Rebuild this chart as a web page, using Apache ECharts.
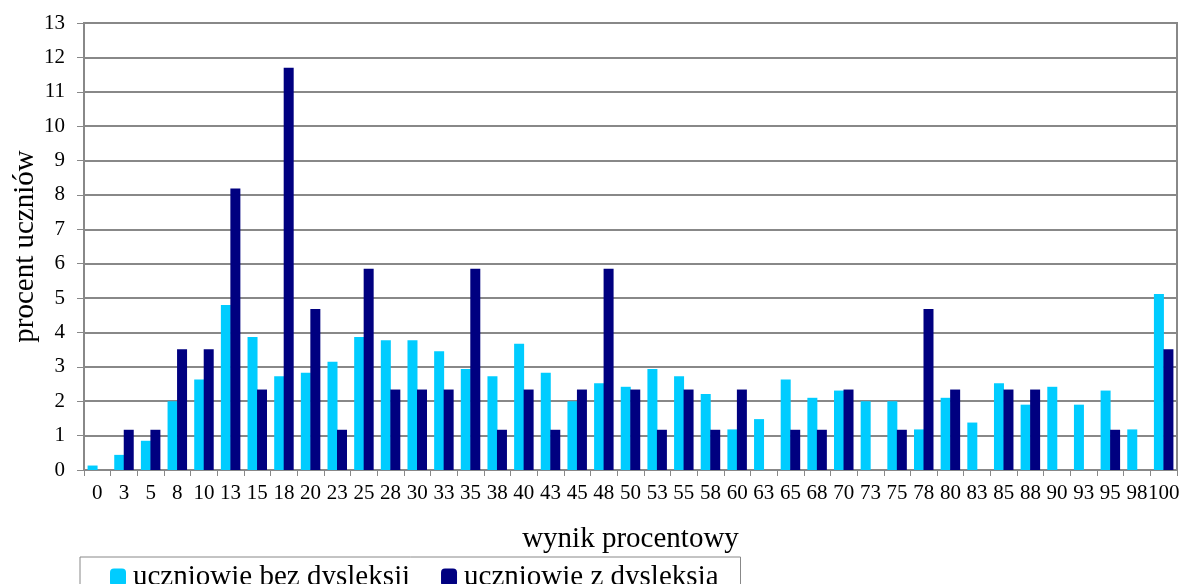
<!DOCTYPE html>
<html>
<head>
<meta charset="utf-8">
<script src="https://cdn.jsdelivr.net/npm/echarts@6/dist/echarts.min.js"></script>
<style>
  html, body { margin: 0; padding: 0; background: #fff; }
  #chart { width: 1184px; height: 584px; }
</style>
</head>
<body>
<div id="chart"></div>
<script>
// wynik procentowy (kategorie osi X)
var categories = ['0','3','5','8','10','13','15','18','20','23','25','28','30','33','35','38','40','43','45','48',
    '50','53','55','58','60','63','65','68','70','73','75','78','80','83','85','88','90','93','95','98','100'];

// uczniowie bez dysleksji
var bezDysleksji = [0.13,0.44,0.85,2.0,2.63,4.8,3.87,2.73,2.83,3.15,3.87,3.77,3.77,3.45,2.94,2.73,3.67,2.83,2.0,2.52,
    2.42,2.94,2.73,2.21,1.18,1.48,2.63,2.1,2.31,2.0,2.0,1.18,2.1,1.38,2.52,1.9,2.42,1.9,2.31,1.18,5.12];

// uczniowie z dysleksja
var zDysleksja = [0,1.17,1.17,3.51,3.51,8.19,2.34,11.7,4.68,1.17,5.85,2.34,2.34,2.34,5.85,1.17,2.34,1.17,2.34,5.85,
    2.34,1.17,2.34,1.17,2.34,0,1.17,1.17,2.34,0,1.17,4.68,2.34,0,2.34,2.34,0,0,1.17,0,3.51];

var font = 'Liberation Serif';
var myChart = echarts.init(document.getElementById('chart'));
var option = {
    animation: false,
    textStyle: { fontFamily: font, color: '#000' },
    grid: {
        left: 84, right: 7, top: 23, bottom: 114,
        outerBoundsMode: 'none',
        show: true, borderColor: '#888', borderWidth: 2
    },
    legend: {
        left: 80, top: 557,
        itemWidth: 16, itemHeight: 18, itemGap: 31,
        borderColor: '#888', borderWidth: 1,
        padding: [6, 22, 20, 30],
        textStyle: { fontFamily: font, fontSize: 29, color: '#000', padding: [0, 0, 0, 2] },
        data: ['uczniowie bez dysleksji', 'uczniowie z dysleksją']
    },
    xAxis: {
        type: 'category',
        data: categories,
        name: 'wynik procentowy',
        nameLocation: 'middle',
        nameGap: 55,
        nameMoveOverlap: false,
        nameTextStyle: { fontFamily: font, fontSize: 29, color: '#000' },
        axisLine: { lineStyle: { color: '#888', width: 2 } },
        axisTick: { show: true, length: 6, lineStyle: { color: '#888' } },
        axisLabel: { interval: 0, fontFamily: font, fontSize: 21, color: '#000', margin: 13 }
    },
    yAxis: {
        type: 'value',
        min: 0, max: 13, interval: 1,
        name: 'procent uczniów',
        nameLocation: 'middle',
        nameGap: 44,
        nameMoveOverlap: false,
        nameTextStyle: { fontFamily: font, fontSize: 29, color: '#000' },
        axisLine: { show: true, lineStyle: { color: '#888', width: 2 } },
        axisTick: { show: true, length: 7, lineStyle: { color: '#888' } },
        axisLabel: { fontFamily: font, fontSize: 21, color: '#000', margin: 19 },
        splitLine: { lineStyle: { color: '#888', width: 2 } }
    },
    series: [
        {
            name: 'uczniowie bez dysleksji',
            type: 'bar',
            data: bezDysleksji,
            barWidth: 10,
            barGap: '-5%',
            itemStyle: { color: '#00CCFF' }
        },
        {
            name: 'uczniowie z dysleksją',
            type: 'bar',
            data: zDysleksja,
            barWidth: 10,
            itemStyle: { color: '#000080' }
        }
    ]
};
myChart.setOption(option);
</script>
</body>
</html>
